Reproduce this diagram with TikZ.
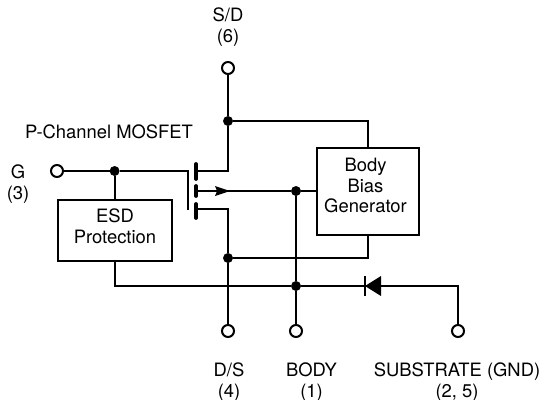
\documentclass[tikz,border=0pt]{standalone}
\usepackage{fontspec}
\setmainfont{TeX Gyre Heros}
\usetikzlibrary{arrows.meta}
\tikzset{
  dot/.style={draw, shape=circle, fill=black, inner sep=0pt, minimum size=7pt},
  term/.style={draw, shape=circle, fill=white, line width=1.5pt, inner sep=0pt, minimum size=9pt},
  block/.style={draw, line width=1.5pt, inner sep=0pt},
  label/.style={align=center, font=\fontsize{13.8}{15.4}\selectfont},
  wire/.style={line width=1.5pt},
  bar/.style={line width=2.8pt, line cap=round}
}
\begin{document}
\begin{tikzpicture}[x=0.75pt, y=-0.75pt]
  \useasboundingbox (0,0) rectangle (543,400);

  % Blocks
  \node[block, minimum width=85.6pt, minimum height=45.5pt] (esd) at (114.6,230.3) {};
  \node[block, minimum width=76.5pt, minimum height=65.25pt] (gen) at (368,191.5) {};
  \node[label] (lesd) at (115,226) {ESD\\Protection};
  \node[label] (lgen) at (365.5,185.5) {Body\\Bias\\Generator};

  % Terminals
  \node[term] (tsd) at (228,68) {};
  \node[term] (tg) at (57,171) {};
  \node[term] (tds) at (228,331) {};
  \node[term] (tbody) at (296,331) {};
  \node[term] (tsub) at (458,331) {};

  % Junctions
  \node[dot] (n00) at (114.6,171) {};
  \node[dot] (n01) at (228,121) {};
  \node[dot] (n02) at (296,191) {};
  \node[dot] (n03) at (228,258) {};
  \node[dot] (n04) at (296,286) {};

  % MOSFET
  \coordinate (g0) at (188,171);
  \coordinate (g1) at (188,210);
  \coordinate (c0) at (196,171);
  \coordinate (c1) at (196,191);
  \coordinate (c2) at (196,209);
  \coordinate (a0) at (228,171);
  \coordinate (a1) at (228,209);
  \draw[bar] (196,164) -- (196,179);
  \draw[bar] (196,186) -- (196,196);
  \draw[bar] (196,204) -- (196,218);
  \draw[wire] (tg) -- (n00);
  \draw[wire] (n00) -- (g0) -- (g1);
  \draw[wire] (n00) -- (esd.north);
  \draw[wire] (tsd) -- (n01);
  \draw[wire] (n01) -- (a0) -- (c0);
  \draw[wire] (n01) -| (gen.north);
  \draw[wire] (c2) -- (a1) -- (n03);
  \draw[wire] (n03) -- (tds);
  \draw[wire] (n03) -| (gen.south);
  \draw[wire] (c1) -- (n02);
  \draw[wire] (n02) -- (gen.west |- n02);
  \draw[wire] (n02) -- (n04);
  \draw[wire] (n04) -- (tbody);

  % Channel arrow
  \coordinate (h1) at (230,191);
  \fill (h1) -- (215,186) -- (217,191) -- (215,196) -- cycle;

  % Substrate diode
  \coordinate (k0) at (365,286);
  \coordinate (k1) at (381,286);
  \coordinate (s0) at (458,286);
  \draw[wire] (esd.south) |- (n04);
  \draw[wire] (n04) -- (k0);
  \draw[wire] (k1) -- (s0) -- (tsub);
  \fill (k0) -- (381,276) -- (381,296) -- cycle;
  \draw[line width=1.5pt] (365,276) -- (365,296);

  % Labels
  \node[label] (lsd) at (228,27) {S/D\\(6)};
  \node[label] (lp) at (109,132) {P-Channel MOSFET};
  \node[label] (lg) at (18,184) {G\\(3)};
  \node[label] (lds) at (229,382) {D/S\\(4)};
  \node[label] (lbody) at (311.5,382) {BODY\\(1)};
  \node[label] (lsub) at (457,382) {SUBSTRATE (GND)\\(2, 5)};
\end{tikzpicture}
\end{document}
